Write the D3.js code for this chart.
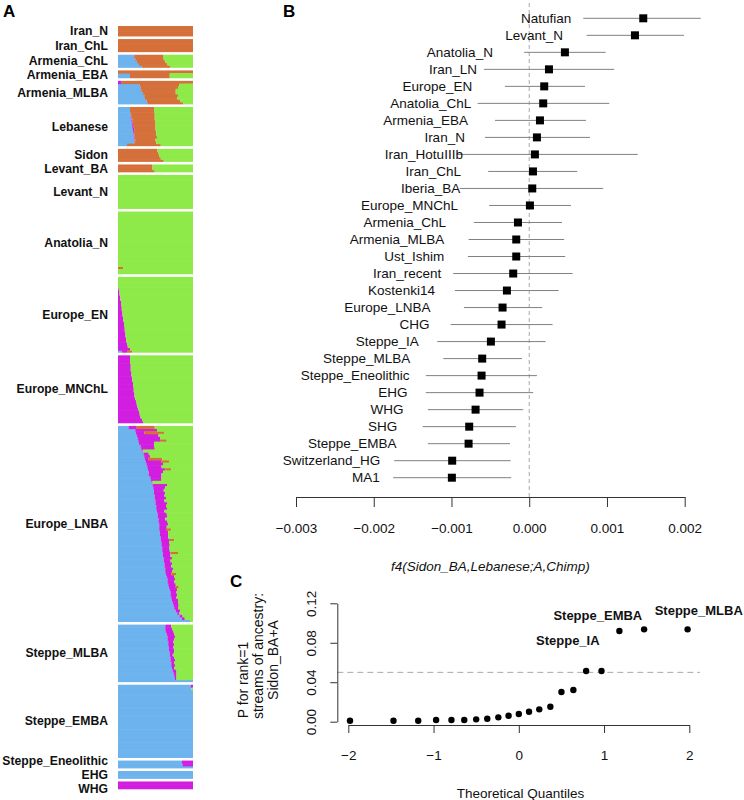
<!DOCTYPE html>
<html><head><meta charset="utf-8">
<script src="https://cdn.jsdelivr.net/npm/d3@7"></script>
<style>
body{margin:0;background:#fff}
svg{display:block;font-family:"Liberation Sans",Arial,Helvetica,sans-serif}
</style>
</head><body>
<svg id="fig" width="744" height="800"></svg>
<script>
// ---------------- Panel A data: ADMIXTURE proportions per individual ----------------
// each row: [blue, magenta, orange] in percent; green is the remainder
const admixGroups = ["Iran_N","Iran_ChL","Armenia_ChL","Armenia_EBA","Armenia_MLBA","Lebanese","Sidon","Levant_BA","Levant_N","Anatolia_N","Europe_EN","Europe_MNChL","Europe_LNBA","Steppe_MLBA","Steppe_EMBA","Steppe_Eneolithic","EHG","WHG"];
const admixComponents = ["blue","magenta","orange","green"];
const admixColors = ["#6db3ee","#d21ee0","#d5703a","#8eea48"];
const rowsIranN = [[0,0,100],[0,0,100],[0,0,100],[0,0,100]];
const rowsIranChL = [[0,0,100],[0,0,100],[0,0,100],[0,0,100],[0,0,100]];
const rowsArmeniaChL = [[21,1,38],[23,0,38],[25,0,38],[28,0,38],[32,0,38]];
const rowsArmeniaEBA = [[0,0,100],[16,0,53],[16,0,53]];
const rowsArmeniaMLBA = [[0,5,95],[29,0,53],[30,0,50],[31,0,46],[33,0,44],[35,0,45],[36,0,43],[38,0,45],[40,0,47]];
const rowsLebanese = [[16,0,32],[16,0,32],[17,0,32],[17,1,31],[18,1,30],[18,1,31],[19,1,30],[19,2,29],[20,2,28],[20,1,30],[21,1,29],[21,1,30],[22,1,27],[22,0,29],[12,0,45]];
const rowsSidon = [[0,0,52],[0,0,54],[0,0,55],[0,0,57],[0,0,61]];
const rowsLevantBA = [[0,0,46],[0,0,46],[0,0,49]];
const rowsLevantN = [[0,0,0],[0,0,0],[0,0,0],[0,0,0],[0,0,0],[0,0,0],[0,0,0],[0,0,0],[0,0,0],[0,0,0],[0,0,0],[0,0,0],[0,0,0]];
const rowsAnatoliaN = [[0,0,0],[0,0,0],[0,0,0],[0,0,0],[0,0,0],[0,0,0],[0,0,0],[0,0,0],[0,0,0],[0,0,0],[0,0,0],[0,0,0],[0,0,0],[0,0,0],[0,0,0],[0,0,0],[0,0,0],[0,0,0],[0,0,0],[0,0,0],[0,0,0],[0,0,7],[0,0,0],[0,0,0]];
const rowsEuropeEN = [[0,0,0],[0,0,0],[0,0,0],[0,0,0],[0,1,0],[0,2,0],[0,2,0],[0,3,0],[0,3,0],[0,4,0],[0,4,0],[0,5,0],[0,5,0],[0,6,0],[0,6,0],[0,7,0],[0,7,0],[0,8,0],[0,8,0],[0,9,0],[0,9,0],[0,10,0],[0,10,0],[0,11,0],[0,11,0],[0,12,0],[0,13,0],[0,16,0],[5,7,7]];
const rowsEuropeMNChL = [[0,16,0],[0,16,0],[0,16,0],[0,17,0],[0,17,0],[0,17,0],[0,18,0],[0,18,0],[0,19,0],[0,19,0],[0,20,0],[0,20,0],[0,21,0],[0,21,0],[0,22,0],[0,22,0],[0,23,0],[0,24,0],[0,25,0],[0,26,0],[0,27,0],[0,28,0],[0,29,0],[0,30,0],[0,32,0],[0,34,0]];
const rowsEuropeLNBA = [[14,11,24],[23,29,0],[24,11,27],[25,29,0],[26,30,0],[27,30,8],[28,20,0],[30,18,0],[31,18,0],[32,1,0],
 [34,7,0],[35,8,0],[36,4,19],[37,21,10],[38,22,0],[39,19,0],[40,23,8],[41,19,0],[41,17,0],[43,15,0],
 [44,14,0],[45,1,0],[46,20,0],[47,16,0],[48,13,0],[48,15,0],[49,13,0],[49,15,0],[50,12,0],[50,16,0],
 [51,13,0],[51,15,0],[52,10,0],[53,12,0],[53,13,0],[54,9,0],[54,12,0],[55,12,0],[55,10,0],[55,9,7],
 [56,11,0],[56,11,0],[57,10,0],[57,12,6],[58,10,0],[58,11,0],[59,9,0],[59,10,0],[60,10,10],[60,10,0],
 [61,11,0],[61,9,0],[62,10,0],[62,9,0],[63,11,0],[63,9,0],[64,7,7],[65,10,0],[66,10,0],[66,9,0],
 [67,10,0],[68,9,4],[69,10,0],[70,8,0],[70,9,0],[71,7,0],[72,8,0],[73,7,0],[74,7,0],[75,5,0],
 [77,6,0],[79,3,0],[82,4,0],[85,4,0],[96,0,0]];
const rowsSteppeMLBA = [[63,8,0],[63,9,0],[64,10,0],[65,10,0],[66,10,0],[66,9,0],[67,7,0],[67,8,0],[68,6,0],[68,7,0],[69,6,0],[69,4,0],[70,5,0],[70,6,0],[71,4,0],[71,5,0],[72,3,0],[73,5,0],[74,4,0],[75,3,0],[76,2,0],[100,0,0]];
const rowsSteppeEMBA = [[97,3,0],[98,0,0],[100,0,0],[100,0,0],[100,0,0],[100,0,0],[100,0,0],[100,0,0],[100,0,0],[100,0,0],[100,0,0],[100,0,0],[100,0,0],[100,0,0],[100,0,0],[100,0,0],[100,0,0],[100,0,0],[100,0,0],[100,0,0],[100,0,0],[100,0,0],[100,0,0],[100,0,0],[100,0,0],[100,0,0],[100,0,0],[100,0,0]];
const rowsSteppeEneolithic = [[85,15,0],[86,14,0],[100,0,0]];
const rowsEHG = [[100,0,0],[100,0,0],[100,0,0]];
const rowsWHG = [[0,100,0],[0,100,0],[0,100,0]];
const admixRows = [rowsIranN,rowsIranChL,rowsArmeniaChL,rowsArmeniaEBA,rowsArmeniaMLBA,rowsLebanese,rowsSidon,rowsLevantBA,rowsLevantN,rowsAnatoliaN,rowsEuropeEN,rowsEuropeMNChL,rowsEuropeLNBA,rowsSteppeMLBA,rowsSteppeEMBA,rowsSteppeEneolithic,rowsEHG,rowsWHG];

// ---------------- Panel B data: f4 statistics ----------------
const f4Pops = ["Natufian","Levant_N","Anatolia_N","Iran_LN","Europe_EN","Anatolia_ChL","Armenia_EBA","Iran_N","Iran_HotuIIIb","Iran_ChL","Iberia_BA","Europe_MNChL","Armenia_ChL","Armenia_MLBA","Ust_Ishim","Iran_recent","Kostenki14","Europe_LNBA","CHG","Steppe_IA","Steppe_MLBA","Steppe_Eneolithic","EHG","WHG","SHG","Steppe_EMBA","Switzerland_HG","MA1"];
const f4Est = [0.001467,0.001360,0.000459,0.000254,0.000193,0.000180,0.000138,0.000099,0.000073,0.000048,0.000039,0.000009,-0.000145,-0.000167,-0.000167,-0.000206,-0.000287,-0.000343,-0.000356,-0.000493,-0.000605,-0.000613,-0.000639,-0.000690,-0.000772,-0.000780,-0.000991,-0.000995];
const f4Lo = [0.000695,0.000739,-0.000064,-0.000583,-0.000313,-0.000664,-0.000441,-0.000570,-0.000934,-0.000528,-0.000892,-0.000515,-0.000712,-0.000780,-0.000789,-0.000978,-0.000956,-0.000840,-0.001012,-0.001184,-0.001106,-0.001330,-0.001330,-0.001304,-0.001372,-0.001304,-0.001737,-0.001750];
const f4Hi = [0.002206,0.001991,0.000983,0.001094,0.000717,0.001030,0.000730,0.000781,0.001395,0.000618,0.000952,0.000537,0.000421,0.000450,0.000463,0.000558,0.000378,0.000167,0.000301,0.000211,-0.000094,0.000099,0.000051,-0.000077,-0.000171,-0.000248,-0.000239,-0.000232];
const f4Ticks = [-0.003,-0.002,-0.001,0,0.001,0.002];

// ---------------- Panel C data: QQ plot of p-values ----------------
const qqTheoretical = [-1.98,-1.47,-1.18,-0.97,-0.79,-0.64,-0.50,-0.37,-0.24,-0.12,0,0.12,0.24,0.37,0.50,0.64,0.79,0.97,1.18,1.47,1.98];
const qqP = [0.0010,0.0010,0.0010,0.0017,0.0017,0.0017,0.0024,0.0030,0.0044,0.0061,0.0078,0.0101,0.0125,0.0152,0.0301,0.0321,0.0514,0.0514,0.0919,0.0936,0.0936];
const qqXTicks = [-2,-1,0,1,2];
const qqYTicks = [0,0.04,0.08,0.12];
const qqThreshold = 0.05;
const qqLabelText = ["Steppe_IA","Steppe_EMBA","Steppe_MLBA"];
const qqLabelX = [0.575,0.927,2.111];
const qqLabelY = [0.0828,0.108,0.1132];

// ====================================================================
const svg = d3.select("#fig");

// ---------- Panel A ----------
(function(){
  const top = 26, bottom = 789.3, gap = 2.6, minLabelGap = 14;
  const totalRows = d3.sum(admixRows, g => g.length);
  const barSpan = bottom - top - gap * (admixRows.length - 1);
  const ay = d3.scaleLinear().domain([0, totalRows]).range([0, barSpan]);
  const ax = d3.scaleLinear().domain([0, 100]).range([118, 193]);
  const color = d3.scaleOrdinal().domain(admixComponents).range(admixColors);
  const stack = d3.stack().keys(admixComponents);
  const g = svg.append("g");
  let offset = 0;
  const mids = [];
  admixRows.forEach((rows, gi) => {
    const y0 = top + gi * gap;
    const data = rows.map(r => ({blue: r[0], magenta: r[1], orange: r[2], green: Math.max(0, 100 - r[0] - r[1] - r[2])}));
    const series = stack(data);
    const gg = g.append("g");
    series.forEach(s => {
      gg.selectAll(null).data(s).join("rect")
        .attr("x", d => ax(d[0]))
        .attr("width", d => Math.max(0, ax(d[1]) - ax(d[0])))
        .attr("y", (d, i) => y0 + ay(offset + i))
        .attr("height", (d, i) => ay(offset + i + 1) - ay(offset + i) + (i < rows.length - 1 ? 0.6 : 0))
        .attr("fill", color(s.key));
    });
    mids.push(y0 + (ay(offset) + ay(offset + rows.length)) / 2);
    offset += rows.length;
  });
  // spread crowded labels around their cluster mean
  let clusters = mids.map((m, i) => ({idx: [i], want: [m]}));
  let changed = true;
  const pos = c => { const mean = d3.mean(c.want); const n = c.idx.length; return c.idx.map((_, k) => mean + (k - (n - 1) / 2) * minLabelGap); };
  while (changed) {
    changed = false;
    for (let k = 0; k < clusters.length - 1; k++) {
      const a = pos(clusters[k]), b = pos(clusters[k + 1]);
      if (b[0] - a[a.length - 1] < minLabelGap - 1e-6) {
        clusters[k] = {idx: clusters[k].idx.concat(clusters[k + 1].idx), want: clusters[k].want.concat(clusters[k + 1].want)};
        clusters.splice(k + 1, 1);
        changed = true; break;
      }
    }
  }
  const labelY = [];
  clusters.forEach(c => { const p = pos(c); c.idx.forEach((i, k) => labelY[i] = p[k]); });
  g.selectAll("text.glab").data(admixGroups).join("text").attr("class", "glab")
    .attr("x", 108).attr("y", (d, i) => labelY[i])
    .attr("text-anchor", "end").attr("dominant-baseline", "central")
    .attr("font-size", 12.2).attr("font-weight", "bold").attr("fill", "#111")
    .text(d => d);
  svg.append("text").attr("x", 3).attr("y", 17).attr("font-size", 17).attr("font-weight", "bold").text("A");
})();

// ---------- Panel B ----------
(function(){
  const bx = d3.scaleLinear().domain([-0.003, 0.002]).range([296, 684.7]);
  const by = d3.scalePoint().domain(f4Pops).range([18.3, 477.7]);
  const axisY = 497;
  const g = svg.append("g");
  g.append("line").attr("x1", bx(0)).attr("x2", bx(0)).attr("y1", 3).attr("y2", axisY)
    .attr("stroke", "#a8a8a8").attr("stroke-width", 1).attr("stroke-dasharray", "4,3");
  g.selectAll("line.ci").data(f4Pops).join("line").attr("class", "ci")
    .attr("x1", (d, i) => bx(f4Lo[i])).attr("x2", (d, i) => bx(f4Hi[i]))
    .attr("y1", d => by(d)).attr("y2", d => by(d))
    .attr("stroke", "#808080").attr("stroke-width", 1);
  g.selectAll("rect.pt").data(f4Pops).join("rect").attr("class", "pt")
    .attr("x", (d, i) => bx(f4Est[i]) - 4).attr("y", d => by(d) - 4)
    .attr("width", 8).attr("height", 8).attr("fill", "#000");
  g.selectAll("text.lab").data(f4Pops).join("text").attr("class", "lab")
    .attr("x", (d, i) => bx(f4Est[i]) - 72).attr("y", d => by(d))
    .attr("text-anchor", "end").attr("dominant-baseline", "central")
    .attr("font-size", 13.5).attr("fill", "#111").text(d => d);
  const axis = d3.axisBottom(bx).tickValues(f4Ticks).tickSize(10).tickSizeOuter(0).tickPadding(16)
    .tickFormat(d3.format(".3f"));
  const ag = svg.append("g").attr("transform", `translate(0,${axisY})`).call(axis);
  ag.selectAll("path,line").attr("stroke", "#333");
  ag.selectAll("text").attr("font-size", 13.5).attr("fill", "#111")
    .attr("font-family", '"Liberation Sans",Arial,sans-serif');
  svg.append("text").attr("x", bx(-0.0005)).attr("y", 566)
    .attr("text-anchor", "middle").attr("dominant-baseline", "central")
    .attr("font-size", 13.5).attr("font-style", "italic").attr("fill", "#111")
    .text("f4(Sidon_BA,Lebanese;A,Chimp)");
  svg.append("text").attr("x", 283).attr("y", 17).attr("font-size", 17).attr("font-weight", "bold").text("B");
})();

// ---------- Panel C ----------
(function(){
  const cx = d3.scaleLinear().domain([-2, 2]).range([348.3, 689.3]);
  const cy = d3.scaleLinear().domain([0, 0.12]).range([721.7, 603.3]);
  const xAxisY = 725, yAxisX = 337.3;
  svg.append("line").attr("x1", yAxisX).attr("x2", 700)
    .attr("y1", cy(qqThreshold)).attr("y2", cy(qqThreshold))
    .attr("stroke", "#a8a8a8").attr("stroke-width", 1).attr("stroke-dasharray", "6,4");
  svg.selectAll("circle.qq").data(qqTheoretical).join("circle").attr("class", "qq")
    .attr("cx", d => cx(d)).attr("cy", (d, i) => cy(qqP[i])).attr("r", 3.2).attr("fill", "#000");
  svg.selectAll("text.qqlab").data(qqLabelText).join("text").attr("class", "qqlab")
    .attr("x", (d, i) => cx(qqLabelX[i])).attr("y", (d, i) => cy(qqLabelY[i]))
    .attr("text-anchor", "middle").attr("dominant-baseline", "central")
    .attr("font-size", 13).attr("font-weight", "bold").attr("fill", "#111").text(d => d);
  const xa = svg.append("g").attr("transform", `translate(0,${xAxisY})`)
    .call(d3.axisBottom(cx).tickValues(qqXTicks).tickSize(8).tickSizeOuter(0).tickPadding(17).tickFormat(d3.format("d")));
  xa.selectAll("path,line").attr("stroke", "#333");
  xa.selectAll("text").attr("font-size", 13.5).attr("fill", "#111").attr("font-family", '"Liberation Sans",Arial,sans-serif');
  const ya = svg.append("g").attr("transform", `translate(${yAxisX},0)`)
    .call(d3.axisLeft(cy).tickValues(qqYTicks).tickSize(7).tickSizeOuter(0).tickFormat(d3.format(".2f")));
  ya.selectAll("path,line").attr("stroke", "#333");
  ya.selectAll("text").attr("font-size", 13.5).attr("fill", "#111").attr("font-family", '"Liberation Sans",Arial,sans-serif')
    .attr("x", 0).attr("y", -26).attr("dy", null).attr("text-anchor", "middle")
    .attr("dominant-baseline", "central").attr("transform", "rotate(-90)");
  const ylab = [["P for rank=1", 243.3, 680], ["streams of ancestry:", 258.3, 656], ["Sidon_BA+A", 273.3, 660]];
  ylab.forEach(([t, x, y]) => {
    svg.append("text").attr("transform", `translate(${x},${y}) rotate(-90)`)
      .attr("text-anchor", "middle").attr("dominant-baseline", "central")
      .attr("font-size", 14).attr("fill", "#111").text(t);
  });
  svg.append("text").attr("x", cx(0.02)).attr("y", 793)
    .attr("text-anchor", "middle").attr("dominant-baseline", "central")
    .attr("font-size", 13.5).attr("fill", "#111").text("Theoretical Quantiles");
  svg.append("text").attr("x", 230).attr("y", 587).attr("font-size", 17).attr("font-weight", "bold").text("C");
})();
</script>
</body></html>
